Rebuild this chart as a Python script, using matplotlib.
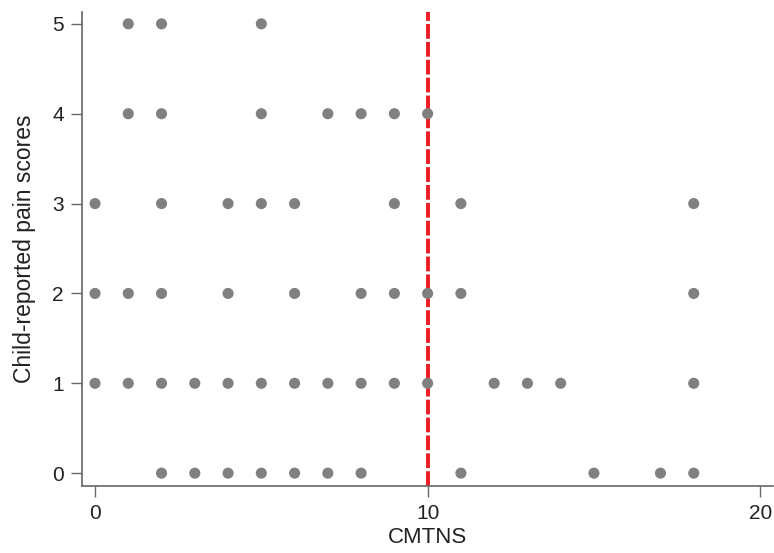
import matplotlib
matplotlib.use("Agg")
import matplotlib.pyplot as plt

plt.rcParams['font.family'] = ['Liberation Sans', 'DejaVu Sans']

# Data: CMTNS scores by child-reported pain score
pain_5 = [1, 2, 5]
pain_4 = [1, 2, 5, 7, 8, 9, 10]
pain_3 = [0, 2, 4, 5, 6, 9, 11, 18]
pain_2 = [0, 1, 2, 4, 6, 8, 9, 10, 11, 18]
pain_1 = [0, 1, 2, 3, 4, 5, 6, 7, 8, 9, 10, 12, 13, 14, 18]
pain_0 = [2, 3, 4, 5, 6, 7, 8, 11, 15, 17, 18]
cutoff = 10
x_ticks = [0, 10, 20]
y_ticks = [0, 1, 2, 3, 4, 5]

groups = {5: pain_5, 4: pain_4, 3: pain_3, 2: pain_2, 1: pain_1, 0: pain_0}
xs, ys = [], []
for score, vals in groups.items():
    xs.extend(vals)
    ys.extend([score] * len(vals))

fig = plt.figure(figsize=(7.74, 5.53), dpi=100)
ax = fig.add_axes([0.106, 0.121, 0.893, 0.857])

ax.axvline(cutoff, color='#ec1c24', linewidth=2.8, dashes=(3.8, 0.8), zorder=1)
ax.scatter(xs, ys, s=64, color='#808080', edgecolors='none', zorder=2)

ax.set_xlim(-0.39, 20.39)
ax.set_ylim(-0.144, 5.13)
ax.set_xticks(x_ticks)
ax.set_yticks(y_ticks)

for s in ['top', 'right']:
    ax.spines[s].set_visible(False)
for s in ['left', 'bottom']:
    ax.spines[s].set_color('#666666')
    ax.spines[s].set_linewidth(1.2)
ax.tick_params(direction='out', length=8, width=1.0, color='#666666',
               labelsize=15, labelcolor='#222222', pad=5)

ax.set_xlabel('CMTNS', fontsize=16, color='#222222', labelpad=3)
ax.set_ylabel('Child-reported pain scores', fontsize=16.5, color='#222222', labelpad=12)

fig.savefig('out.png', dpi=100)
